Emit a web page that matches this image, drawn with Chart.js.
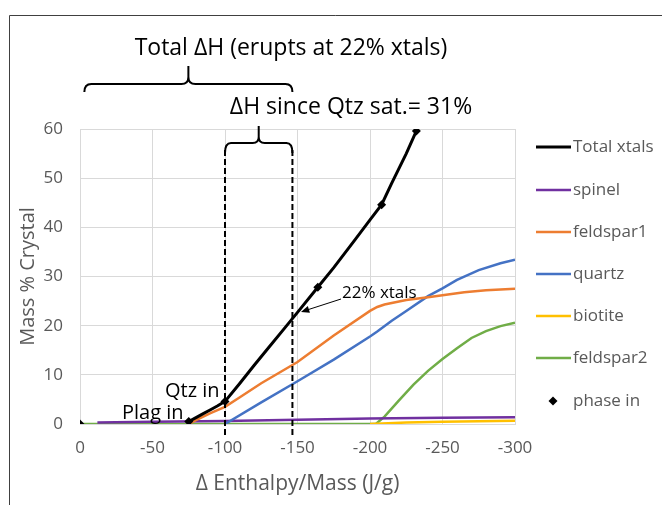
<!DOCTYPE html>
<html><head><meta charset="utf-8">
<script src="https://cdn.jsdelivr.net/npm/chart.js@4.4.1/dist/chart.umd.min.js"></script>
<style>html,body{margin:0;padding:0;background:#fff}</style>
</head><body>
<canvas id="c" width="662" height="505"></canvas>
<script>
// ---- data ----
const totalX = [-75, -80, -85, -90, -95, -100, -110, -120, -130, -140, -150, -164, -175, -190, -200, -208, -215, -225, -232];
const totalY = [0.5, 1.3, 2.1, 2.9, 3.7, 4.6, 8.2, 11.9, 15.5, 19.1, 22.7, 27.8, 31.8, 37.6, 41.5, 44.6, 49.0, 55.0, 59.6];
const spinelX = [-12, -50, -100, -150, -200, -250, -300];
const spinelY = [0.3, 0.45, 0.6, 0.85, 1.1, 1.25, 1.35];
const feld1X = [-75, -80, -90, -100, -110, -125, -150, -175, -200, -205, -210, -225, -240, -250, -265, -280, -300];
const feld1Y = [0, 0.8, 2.2, 3.5, 5.4, 8.3, 12.6, 18.0, 23.0, 23.8, 24.3, 25.2, 25.8, 26.2, 26.8, 27.2, 27.5];
const qtzX = [-100, -125, -150, -175, -200, -205, -215, -225, -240, -250, -260, -275, -290, -300];
const qtzY = [0, 4.4, 8.7, 13.1, 17.8, 18.8, 21.0, 23.0, 26.0, 27.6, 29.3, 31.3, 32.7, 33.4];
const bioX = [-200, -225, -250, -300];
const bioY = [0, 0.3, 0.45, 0.65];
const feld2X = [0, -50, -100, -150, -204, -210, -220, -230, -240, -250, -260, -270, -280, -290, -300];
const feld2Y = [0, 0, 0, 0, 0, 1.5, 4.8, 8.0, 10.8, 13.2, 15.4, 17.5, 18.9, 19.9, 20.6];
const phaseX = [0, -75, -100, -164, -208, -232];
const phaseY = [0, 0.5, 4.6, 27.8, 44.6, 59.6];
const seriesNames = ['Total xtals', 'spinel', 'feldspar1', 'quartz', 'biotite', 'feldspar2', 'phase in'];
const qtzSatX = -100, eruptX = -146.5;

const pts = (xs, ys) => xs.map((x, i) => ({x, y: ys[i]}));
const FONT = "'Open Sans', 'DejaVu Sans', sans-serif";
const GRAY = '#595959';

function lineDs(label, xs, ys, color, w) {
  return {label, data: pts(xs, ys), borderColor: color, backgroundColor: color, borderWidth: w,
    showLine: true, pointRadius: 0, tension: 0};
}

const datasets = [
  {label: seriesNames[6], data: pts(phaseX, phaseY), showLine: false, pointStyle: 'rectRot',
   pointRadius: 4.5, backgroundColor: '#000', borderColor: '#000', borderWidth: 0},
  lineDs(seriesNames[0], totalX, totalY, '#000000', 3),
  lineDs(seriesNames[2], feld1X, feld1Y, '#ED7D31', 2.5),
  lineDs(seriesNames[3], qtzX, qtzY, '#4472C4', 2.5),
  lineDs(seriesNames[1], spinelX, spinelY, '#7030A0', 2.5),
  lineDs(seriesNames[4], bioX, bioY, '#FFC000', 2.5),
  lineDs(seriesNames[5], feld2X, feld2Y, '#70AD47', 2.5),
];

function brace(ctx, x1, x2, y, yEnd, yTip, r) {
  const xm = (x1 + x2) / 2;
  ctx.beginPath();
  ctx.moveTo(x1, yEnd);
  ctx.quadraticCurveTo(x1, y, x1 + r, y);
  ctx.lineTo(xm - r, y);
  ctx.quadraticCurveTo(xm, y, xm, y - r);
  ctx.lineTo(xm, yTip);
  ctx.moveTo(xm, y - r);
  ctx.quadraticCurveTo(xm, y, xm + r, y);
  ctx.lineTo(x2 - r, y);
  ctx.quadraticCurveTo(x2, y, x2, yEnd);
  ctx.stroke();
}

const annot = {
  id: 'annot',
  afterDraw(chart) {
    const ctx = chart.ctx, xs = chart.scales.x;
    ctx.save();
    // outer border
    ctx.strokeStyle = '#404040'; ctx.lineWidth = 1;
    ctx.beginPath(); ctx.moveTo(9.5, 505); ctx.lineTo(9.5, 15.5); ctx.lineTo(662, 15.5); ctx.stroke();
    // dashed lines
    const xa = xs.getPixelForValue(qtzSatX), xb = xs.getPixelForValue(eruptX);
    ctx.strokeStyle = '#000'; ctx.lineWidth = 2; ctx.setLineDash([6, 3]);
    [xa, xb].forEach(x => { ctx.beginPath(); ctx.moveTo(x, 150); ctx.lineTo(x, 437); ctx.stroke(); });
    ctx.setLineDash([]);
    // braces
    brace(ctx, xa, xb, 143, 153, 126, 6);
    brace(ctx, xs.getPixelForValue(-3), xb, 84, 92, 66, 7);
    // texts
    ctx.fillStyle = '#000'; ctx.textBaseline = 'middle';
    ctx.font = '23px ' + FONT; ctx.textAlign = 'center';
    ctx.fillText('Total ΔH (erupts at 22% xtals)', 291, 48);
    ctx.fillText('ΔH since Qtz sat.= 31%', 351, 107);
    ctx.textAlign = 'left';
    ctx.font = '17px ' + FONT;
    ctx.fillText('22% xtals', 342, 293);
    ctx.font = '20px ' + FONT;
    ctx.fillText('Qtz in', 165, 391);
    ctx.fillText('Plag in', 122, 413);
    // arrow
    const ax0 = 341, ay0 = 299, ax1 = 301, ay1 = 312;
    ctx.strokeStyle = '#000'; ctx.lineWidth = 1;
    ctx.beginPath(); ctx.moveTo(ax0, ay0); ctx.lineTo(ax1 + 6, ay1 - 2); ctx.stroke();
    const ang = Math.atan2(ay1 - ay0, ax1 - ax0);
    ctx.beginPath();
    ctx.moveTo(ax1, ay1);
    ctx.lineTo(ax1 - 9 * Math.cos(ang - 0.4), ay1 - 9 * Math.sin(ang - 0.4));
    ctx.lineTo(ax1 - 9 * Math.cos(ang + 0.4), ay1 - 9 * Math.sin(ang + 0.4));
    ctx.closePath(); ctx.fill();
    // legend
    const order = [1, 4, 2, 3, 5, 6, 0];
    const ys = [147, 190, 232, 274, 316, 358, 401];
    ctx.font = '17px ' + FONT; ctx.fillStyle = GRAY;
    order.forEach((di, i) => {
      const ds = chart.data.datasets[di];
      const y = ys[i];
      if (ds.showLine === false) {
        ctx.fillStyle = '#000';
        ctx.beginPath();
        ctx.moveTo(553, y - 4.5); ctx.lineTo(557.5, y); ctx.lineTo(553, y + 4.5); ctx.lineTo(548.5, y);
        ctx.closePath(); ctx.fill();
      } else {
        ctx.strokeStyle = ds.borderColor; ctx.lineWidth = ds.borderWidth;
        ctx.beginPath(); ctx.moveTo(536, y); ctx.lineTo(571, y); ctx.stroke();
      }
      ctx.fillStyle = GRAY;
      ctx.fillText(ds.label, 573, y);
    });
    ctx.restore();
  }
};

new Chart(document.getElementById('c'), {
  type: 'scatter',
  data: {datasets},
  plugins: [annot],
  options: {
    responsive: false, animation: false,
    layout: {padding: {left: 0, right: 147, top: 129, bottom: 0}},
    plugins: {legend: {display: false}, tooltip: {enabled: false}},
    scales: {
      x: {type: 'linear', min: -300, max: 0, reverse: true,
        ticks: {stepSize: 50, color: GRAY, font: {size: 17, family: FONT}, padding: 14},
        grid: {color: '#D9D9D9', drawTicks: false}, border: {color: '#D9D9D9'},
        title: {display: true, text: 'Δ Enthalpy/Mass (J/g)', color: GRAY, font: {size: 21, family: FONT}, padding: {top: 0, bottom: 8}},
        afterFit(s) { s.height = 81; }
      },
      y: {min: 0, max: 60,
        ticks: {stepSize: 10, color: GRAY, font: {size: 17, family: FONT}, padding: 17},
        grid: {color: '#D9D9D9', drawTicks: false}, border: {color: '#D9D9D9'},
        title: {display: true, text: 'Mass % Crystal', color: GRAY, font: {size: 20, family: FONT}, padding: {top: 16, bottom: 0}},
        afterFit(s) { s.width = 80; }
      }
    }
  }
});
</script>
</body></html>
